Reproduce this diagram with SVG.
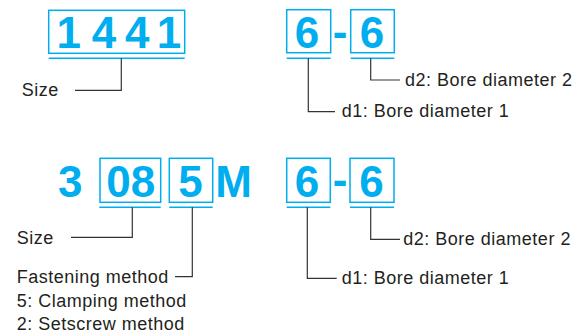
<svg xmlns="http://www.w3.org/2000/svg" width="587" height="334" viewBox="0 0 587 334">
<style>
.box{fill:none;stroke:#00aeef;stroke-width:1.5}
.ul{stroke:#00aeef;stroke-width:1.5}
.big{font-family:"Liberation Sans",Arial,sans-serif;font-weight:bold;font-size:44px;fill:#00aeef;text-anchor:middle}
.lbl{font-family:"Liberation Sans",Arial,sans-serif;font-size:18px;fill:#231f20;letter-spacing:0.5px}
.ld{fill:none;stroke:#333;stroke-width:1.2}
</style>
<rect width="587" height="334" fill="#fff"/>
<g id="code1">
<rect class="box" x="48.7" y="10.3" width="136" height="43"/>
<line class="ul" x1="48.7" y1="58.3" x2="184.7" y2="58.3"/>
<text class="big" x="68.7" y="48.3">1</text>
<text class="big" x="104" y="48.3">4</text>
<text class="big" x="137.3" y="48.3">4</text>
<text class="big" x="169" y="48.3">1</text>
</g>
<g id="bore1a">
<rect class="box" x="286.7" y="9.7" width="44" height="43"/>
<line class="ul" x1="286.7" y1="58.3" x2="330.7" y2="58.3"/>
<text class="big" x="307" y="48.3">6</text>
</g>
<text class="big" x="340" y="46.5">-</text>
<g id="bore1b">
<rect class="box" x="350.7" y="9.7" width="43.6" height="43"/>
<line class="ul" x1="350.7" y1="58.3" x2="394.3" y2="58.3"/>
<text class="big" x="372" y="48.3">6</text>
</g>
<g id="code2">
<text class="big" x="70.2" y="196.7">3</text>
<rect class="box" x="100" y="158.3" width="60.7" height="44"/>
<line class="ul" x1="99.3" y1="207.3" x2="160.7" y2="207.3"/>
<text class="big" x="130.7" y="196.7">08</text>
<rect class="box" x="169.3" y="158.3" width="43.4" height="44"/>
<line class="ul" x1="169.3" y1="207.3" x2="212.7" y2="207.3"/>
<text class="big" x="190.5" y="196.7">5</text>
<text class="big" x="233.5" y="196.7">M</text>
</g>
<g id="bore2a">
<rect class="box" x="286.7" y="158.3" width="43.6" height="44"/>
<line class="ul" x1="286.7" y1="207.3" x2="330.3" y2="207.3"/>
<text class="big" x="307" y="196.7">6</text>
</g>
<text class="big" x="340" y="195">-</text>
<g id="bore2b">
<rect class="box" x="350" y="158.3" width="44" height="44"/>
<line class="ul" x1="350" y1="207.3" x2="394" y2="207.3"/>
<text class="big" x="371.5" y="196.7">6</text>
</g>
<g id="connectors">
<polyline class="ld" points="121.3,58.3 121.3,90.3 75,90.3"/>
<polyline class="ld" points="308.3,58.3 308.3,111.7 335,111.7"/>
<polyline class="ld" points="370.7,58.3 370.7,80 400,80"/>
<polyline class="ld" points="132.3,207.3 132.3,237.3 71,237.3"/>
<polyline class="ld" points="192.3,207.3 192.3,276.7 175,276.7"/>
<polyline class="ld" points="307.3,207.3 307.3,278.3 336.7,278.3"/>
<polyline class="ld" points="370.7,207.3 370.7,239.3 400,239.3"/>
</g>
<g id="labels">
<text class="lbl" x="21.7" y="96.3">Size</text>
<text class="lbl" x="405" y="86">d2: Bore diameter 2</text>
<text class="lbl" x="341.7" y="117.3">d1: Bore diameter 1</text>
<text class="lbl" x="16.7" y="244">Size</text>
<text class="lbl" x="16.7" y="282.7">Fastening method</text>
<text class="lbl" x="16.7" y="306.5">5: Clamping method</text>
<text class="lbl" x="16.7" y="330">2: Setscrew method</text>
<text class="lbl" x="403.3" y="245">d2: Bore diameter 2</text>
<text class="lbl" x="341.7" y="284">d1: Bore diameter 1</text>
</g>
</svg>
